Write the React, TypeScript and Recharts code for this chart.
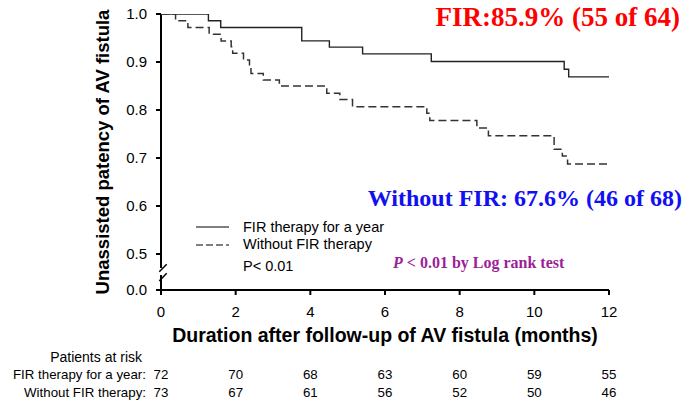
import React from 'react';
import { LineChart, Line, XAxis, YAxis, ReferenceLine, Label } from 'recharts';

// months on the x axis / patients at risk under each tick
const months = [0, 2, 4, 6, 8, 10, 12];
const riskFir = [72, 70, 68, 63, 60, 59, 55];
const riskWithout = [73, 67, 61, 56, 52, 50, 46];

// broken y axis: the lowest tick stands for 0.0
const BREAK_BOTTOM = 0.425;
const yTicks = [BREAK_BOTTOM, 0.5, 0.6, 0.7, 0.8, 0.9, 1.0];

// Kaplan-Meier steps
const firTimes = [0, 1.27, 1.6, 3.77, 4.51, 5.4, 7.24, 10.8, 10.92, 12];
const firSurvival = [1.0, 0.986, 0.972, 0.944, 0.931, 0.917, 0.901, 0.885, 0.869, 0.869];

const withoutTimes = [0, 0.39, 0.72, 1.29, 1.61, 1.88, 1.92, 2.21, 2.37, 2.41, 2.74, 3.17, 4.44, 4.79, 5.13, 7.12, 7.2, 8.46, 8.77, 10.53, 10.75, 10.89, 12];
const withoutSurvival = [1.0, 0.986, 0.972, 0.958, 0.944, 0.932, 0.918, 0.904, 0.89, 0.876, 0.8625, 0.85, 0.835, 0.822, 0.807, 0.793, 0.778, 0.7625, 0.7465, 0.718, 0.704, 0.6875, 0.6875];

const firData = firTimes.map((t, i) => ({ t, s: firSurvival[i] }));
const withoutData = withoutTimes.map((t, i) => ({ t, s: withoutSurvival[i] }));

const SANS = '"Liberation Sans", Arial, sans-serif';
const SERIF = '"Liberation Serif", "Times New Roman", serif';

const Txt = ({ x, y, right, children, style }: any) => (
  <div
    style={{
      position: 'absolute',
      left: right === undefined ? x : undefined,
      right: right,
      top: y,
      transform: 'translateY(-50%)',
      lineHeight: 1,
      whiteSpace: 'nowrap',
      ...style,
    }}
  >
    {children}
  </div>
);

export default function App() {
  const axisStroke = { stroke: '#000', strokeWidth: 2 };
  const riskAxis = (id: string, counts: number[], label: string) => (
    <XAxis
      xAxisId={id}
      dataKey="t"
      type="number"
      domain={[0, 12]}
      ticks={months}
      allowDataOverflow
      height={18}
      axisLine={false}
      tickLine={false}
      tickSize={0}
      tickMargin={5}
      interval={0}
      tickFormatter={(t: number) => String(counts[months.indexOf(t)])}
      tick={{ fontSize: 13.3, fill: '#000', fontFamily: SANS }}
    >
      <Label value={label} position="left" offset={15} style={{ fontSize: 13.3, fill: '#000', fontFamily: SANS }} />
    </XAxis>
  );
  return (
    <div style={{ position: 'absolute', left: 0, top: 0, width: 683, height: 404, background: '#fff', fontFamily: SANS }}>
      <LineChart width={683} height={404} margin={{ top: 14, right: 74, left: 101, bottom: 3 }}>
        <XAxis
          dataKey="t"
          type="number"
          domain={[0, 12]}
          ticks={months}
          allowDataOverflow
          height={75}
          axisLine={axisStroke}
          tickLine={axisStroke}
          tickSize={5}
          tickMargin={11}
          tick={{ fontSize: 15, fill: '#000', fontFamily: SANS }}
        >
          <Label
            value="Duration after follow-up of AV fistula (months)"
            position="insideBottom"
            offset={23}
            style={{ fontSize: 19.5, fontWeight: 'bold', fill: '#000', fontFamily: SANS }}
          />
        </XAxis>
        {riskAxis('r1', riskFir, 'FIR therapy for a year:')}
        {riskAxis('r2', riskWithout, 'Without FIR therapy:')}
        <YAxis
          type="number"
          domain={[BREAK_BOTTOM, 1.0]}
          ticks={yTicks}
          allowDataOverflow
          width={60}
          axisLine={false}
          tickLine={axisStroke}
          tickSize={5}
          tickMargin={9}
          tickFormatter={(v: number) => (v < 0.45 ? '0.0' : v.toFixed(1))}
          tick={{ fontSize: 15, fill: '#000', fontFamily: SANS }}
        >
          <Label
            value="Unassisted patency of AV fistula"
            angle={-90}
            position="insideLeft"
            offset={1}
            style={{ fontSize: 18.5, fontWeight: 'bold', fill: '#000', textAnchor: 'middle', fontFamily: SANS }}
          />
        </YAxis>

        {/* y axis line with the break */}
        <ReferenceLine segment={[{ x: 0, y: 1.0 }, { x: 0, y: 0.4708 }]} stroke="#000" strokeWidth={2} ifOverflow="visible" />
        <ReferenceLine segment={[{ x: 0, y: 0.4563 }, { x: 0, y: BREAK_BOTTOM }]} stroke="#000" strokeWidth={2} ifOverflow="visible" />
        <ReferenceLine segment={[{ x: -0.046, y: 0.4631 }, { x: 0.153, y: 0.4785 }]} stroke="#000" strokeWidth={1.5} ifOverflow="visible" />
        <ReferenceLine segment={[{ x: -0.046, y: 0.4438 }, { x: 0.153, y: 0.4598 }]} stroke="#000" strokeWidth={1.5} ifOverflow="visible" />

        <Line data={firData} dataKey="s" type="stepAfter" stroke="#222" strokeWidth={1.4} dot={false} isAnimationActive={false} />
        <Line data={withoutData} dataKey="s" type="stepAfter" stroke="#333" strokeWidth={1.5} strokeDasharray="8 4" dot={false} isAnimationActive={false} />
        {/* invisible series so the at-risk axes get a domain */}
        <Line xAxisId="r1" data={firData} dataKey="s" stroke="none" dot={false} activeDot={false} isAnimationActive={false} />
        <Line xAxisId="r2" data={withoutData} dataKey="s" stroke="none" dot={false} activeDot={false} isAnimationActive={false} />
      </LineChart>

      {/* legend */}
      <svg style={{ position: 'absolute', left: 0, top: 0 }} width={683} height={404} pointerEvents="none">
        <line x1={196} x2={229} y1={227} y2={227} stroke="#000" strokeWidth={1.2} />
        <line x1={196} x2={229} y1={245} y2={245} stroke="#000" strokeWidth={1.2} strokeDasharray="7 3" />
      </svg>
      <Txt x={243} y={227} style={{ fontSize: 14.5 }}>FIR therapy for a year</Txt>
      <Txt x={243} y={244} style={{ fontSize: 14.5 }}>Without FIR therapy</Txt>
      <Txt x={243} y={266} style={{ fontSize: 14.5 }}>P&lt; 0.01</Txt>

      {/* annotations */}
      <Txt right={3} y={17} style={{ fontFamily: SERIF, fontWeight: 'bold', fontSize: 27, color: '#ff0000' }}>
        FIR:85.9% (55 of 64)
      </Txt>
      <Txt right={1} y={198} style={{ fontFamily: SERIF, fontWeight: 'bold', fontSize: 24, color: '#1010f0' }}>
        Without FIR: 67.6% (46 of 68)
      </Txt>
      <Txt x={393} y={263} style={{ fontFamily: SERIF, fontWeight: 'bold', fontSize: 16, color: '#9c1f99' }}>
        <i>P</i> &lt; 0.01 by Log rank test
      </Txt>

      <Txt right={541} y={357} style={{ fontSize: 14 }}>Patients at risk</Txt>
    </div>
  );
}
